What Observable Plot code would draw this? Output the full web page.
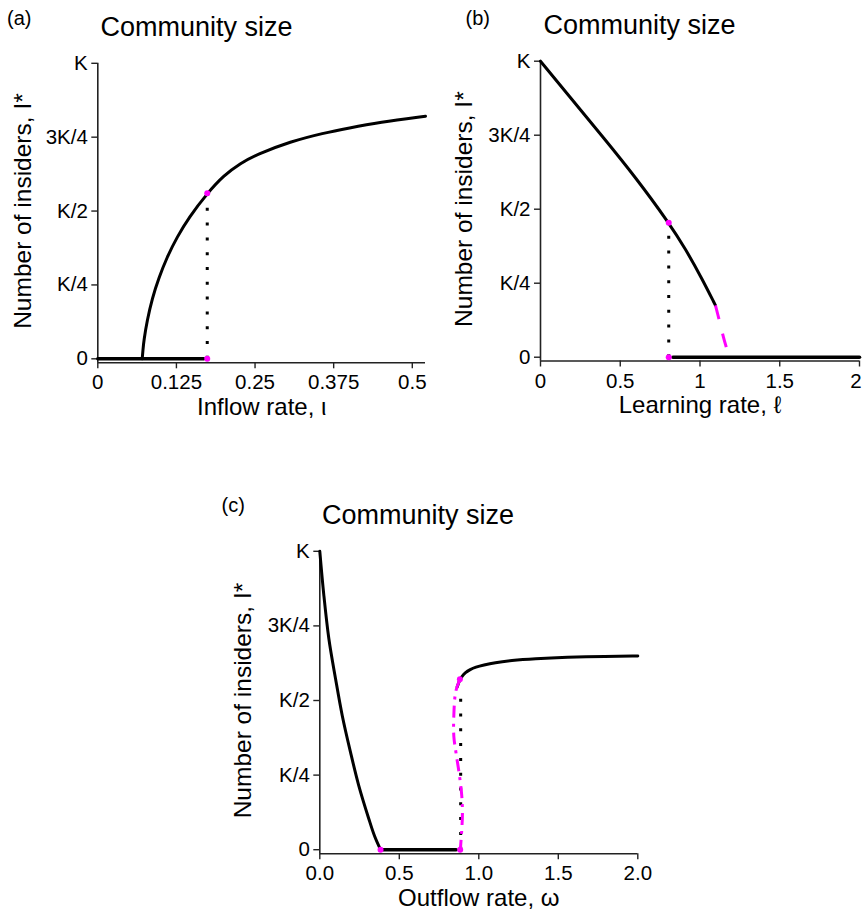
<!DOCTYPE html>
<html><head><meta charset="utf-8">
<script src="https://cdn.jsdelivr.net/npm/d3@7"></script>
<script src="https://cdn.jsdelivr.net/npm/@observablehq/plot@0.6"></script>
<style>
html,body{margin:0;padding:0;background:#fff;}
#wrap{position:relative;width:862px;height:915px;overflow:hidden;font-family:"Liberation Sans",Arial,sans-serif;}
.panel{position:absolute;}
</style></head><body><div id="wrap"></div>
<script>
// ---------- shared ----------
const yTickValues = [0, 0.25, 0.5, 0.75, 1];
const yTickLabels = ["0", "K/4", "K/2", "3K/4", "K"];
const titleText = "Community size";
const yLabelText = "Number of insiders, I*";

// ---------- panel (a): inflow rate ----------
const aTickValues = [0, 0.125, 0.25, 0.375, 0.5];
const aTickLabels = ["0", "0.125", "0.25", "0.375", "0.5"];
const aZeroX = [0, 0.1686];
const aZeroY = [0, 0];
const aCurveX = [0.0706, 0.0718, 0.0732, 0.0785, 0.0865, 0.0971, 0.110, 0.126, 0.145, 0.174, 0.200, 0.227, 0.2535, 0.306, 0.359, 0.399, 0.447, 0.521];
const aCurveY = [0, 0.030, 0.062, 0.130, 0.205, 0.274, 0.344, 0.412, 0.479, 0.560, 0.620, 0.662, 0.692, 0.735, 0.764, 0.781, 0.800, 0.821];
const aJumpX = [0.174, 0.174];
const aJumpY = [0, 0.560];

// ---------- panel (b): learning rate ----------
const bTickValues = [0, 0.5, 1, 1.5, 2];
const bTickLabels = ["0", "0.5", "1", "1.5", "2"];
const bStableX = [0, 0.178, 0.387, 0.596, 0.805, 0.909, 1.013, 1.097];
const bStableY = [1, 0.883, 0.747, 0.608, 0.454, 0.366, 0.265, 0.175];
const bUnstableX = [1.097, 1.124, 1.147, 1.170, 1.181];
const bUnstableY = [0.175, 0.118, 0.068, 0.023, 0];
const bZeroX = [0.83, 2.0];
const bZeroY = [0, 0];
const bJumpX = [0.804, 0.804];
const bJumpY = [0, 0.454];

// ---------- panel (c): outflow rate ----------
const cTickValues = [0, 0.5, 1, 1.5, 2];
const cTickLabels = ["0.0", "0.5", "1.0", "1.5", "2.0"];
const cLowX = [0, 0.025, 0.057, 0.099, 0.141, 0.193, 0.245, 0.308, 0.345, 0.382];
const cLowY = [1, 0.855, 0.707, 0.573, 0.450, 0.327, 0.215, 0.104, 0.045, 0];
const cZeroX = [0.393, 0.858];
const cZeroY = [0, 0];
const cHighX = [0.864, 0.872, 0.882, 0.895, 0.915, 0.945, 0.98, 1.03, 1.10, 1.20, 1.35, 1.55, 1.8, 2.0];
const cHighY = [0.545, 0.558, 0.570, 0.582, 0.594, 0.604, 0.612, 0.619, 0.627, 0.634, 0.640, 0.645, 0.648, 0.649];
const cUnstableX = [0.881, 0.855, 0.843, 0.843, 0.858, 0.878, 0.893, 0.897, 0.892, 0.884];
const cUnstableY = [0.571, 0.53, 0.45, 0.38, 0.32, 0.25, 0.18, 0.12, 0.06, 0];
const cJumpX = [0.886, 0.886];
const cJumpY = [0, 0.545];
const cDotX = [0.382, 0.883, 0.881];
const cDotY = [0, 0, 0.571];

const MAGENTA = "#ff00ff";
const FONT = "'Liberation Sans', Arial, sans-serif";
const TICK_FS = 20.5;

function pts(xs, ys) { return xs.map((x, i) => ({x, y: ys[i]})); }

function panel(cfg) {
  const {left, top, width, height, mL, mR, mT, mB, xMax, yMin, ticks, labels, lastDx = 0,
         letter, letterDx, letterDy, titleDx, titleDy, xLabel, yLabelDx, xLabelDy, marks} = cfg;
  const n = ticks.length;
  const shiftLast = lastDx !== 0;
  const p = Plot.plot({
    width, height, marginLeft: mL, marginRight: mR, marginTop: mT, marginBottom: mB,
    x: {domain: [0, xMax]},
    y: {domain: [yMin, 1]},
    style: {fontFamily: FONT, color: "#000", background: "transparent"},
    marks: [
      Plot.ruleX([0], {stroke: "#222", strokeWidth: 1.6}),
      Plot.ruleY([yMin], {stroke: "#222", strokeWidth: 1.6}),
      Plot.axisY({ticks: yTickValues, tickFormat: d => yTickLabels[yTickValues.indexOf(d)],
        tickSize: 6, tickPadding: 4, fontSize: TICK_FS, label: null, stroke: "#222", strokeWidth: 1.4}),
      Plot.axisX({ticks, tickFormat: d => {
          const i = ticks.indexOf(d);
          return (shiftLast && i === n - 1) ? "" : labels[i];
        },
        tickSize: 6, tickPadding: 6, fontSize: TICK_FS, label: null, stroke: "#222", strokeWidth: 1.4}),
      ...(shiftLast ? [Plot.axisX({ticks: [ticks[n - 1]], tickFormat: () => labels[n - 1],
        tickSize: 0, tickPadding: 12, dx: lastDx, fontSize: TICK_FS, label: null})] : []),
      ...marks,
      Plot.text([letter], {text: d => d, frameAnchor: "top-left", dx: letterDx, dy: letterDy,
        textAnchor: "start", lineAnchor: "bottom", fontSize: 20}),
      Plot.text([titleText], {text: d => d, frameAnchor: "top-left", dx: titleDx, dy: titleDy,
        textAnchor: "middle", lineAnchor: "bottom", fontSize: 27}),
      Plot.text([yLabelText], {text: d => d, frameAnchor: "left", dx: yLabelDx, dy: -2, rotate: -90,
        textAnchor: "middle", lineAnchor: "middle", fontSize: 24.5}),
      Plot.text([xLabel], {text: d => d, frameAnchor: "bottom", dy: xLabelDy,
        textAnchor: "middle", lineAnchor: "bottom", fontSize: 24})
    ]
  });
  const d = document.createElement("div");
  d.className = "panel";
  d.style.left = left + "px";
  d.style.top = top + "px";
  d.appendChild(p);
  document.getElementById("wrap").appendChild(d);
}

const solid = (xs, ys, extra = {}) => Plot.line(pts(xs, ys), {x: "x", y: "y", stroke: "#000", strokeWidth: 3, curve: "monotone-x", ...extra});
const dotted = (xs, ys) => Plot.line(pts(xs, ys), {x: "x", y: "y", stroke: "#000", strokeWidth: 3, strokeDasharray: "3 11.8", strokeLinecap: "butt"});
const mdots = (xs, ys) => Plot.dot(pts(xs, ys), {x: "x", y: "y", r: 3, fill: MAGENTA, stroke: "none"});

// (a)
panel({
  left: 0, top: 0, width: 430, height: 425,
  mL: 97.3, mR: 5, mT: 62.8, mB: 62.7,
  xMax: 0.521, yMin: -0.0135, ticks: aTickValues, labels: aTickLabels,
  letter: "(a)", letterDx: -90.8, letterDy: -38.8,
  titleDx: 98.7, titleDy: -27.8,
  xLabel: "Inflow rate, \u03b9", yLabelDx: -74.8, xLabelDy: 52.5,
  marks: [
    solid(aZeroX, aZeroY, {strokeWidth: 3.5, curve: "linear"}),
    solid(aCurveX, aCurveY, {curve: "basis"}),
    dotted(aJumpX, aJumpY),
    mdots(aJumpX, aJumpY)
  ]
});

// (b)
panel({
  left: 430, top: 0, width: 432, height: 425,
  mL: 110, mR: 3, mT: 60.7, mB: 64.5,
  xMax: 2.0, yMin: -0.0128, ticks: bTickValues, labels: bTickLabels, lastDx: -3.5,
  letter: "(b)", letterDx: -75, letterDy: -36.7,
  titleDx: 99, titleDy: -27.2,
  xLabel: "Learning rate, \u2113", yLabelDx: -76, xLabelDy: 52,
  marks: [
    solid(bZeroX, bZeroY, {strokeWidth: 3.5, curve: "linear"}),
    solid(bStableX, bStableY, {curve: "basis"}),
    Plot.line(pts(bUnstableX, bUnstableY), {x: "x", y: "y", stroke: MAGENTA, strokeWidth: 3, strokeDasharray: "14 15", strokeLinecap: "butt", curve: "catmull-rom"}),
    dotted(bJumpX, bJumpY),
    mdots(bJumpX, bJumpY)
  ]
});

// (c)
panel({
  left: 220, top: 480, width: 450, height: 435,
  mL: 99.3, mR: 32.7, mT: 70.8, mB: 61.7,
  xMax: 2.0, yMin: -0.0137, ticks: cTickValues, labels: cTickLabels,
  letter: "(c)", letterDx: -98.3, letterDy: -39.8,
  titleDx: 98.2, titleDy: -27.5,
  xLabel: "Outflow rate, \u03c9", yLabelDx: -77, xLabelDy: 52,
  marks: [
    solid(cZeroX, cZeroY, {strokeWidth: 3.5, curve: "linear"}),
    solid(cLowX, cLowY, {curve: "catmull-rom"}),
    solid(cHighX, cHighY, {curve: "basis"}),
    dotted(cJumpX, cJumpY),
    Plot.line(pts(cUnstableX, cUnstableY), {x: "x", y: "y", stroke: MAGENTA, strokeWidth: 3, strokeDasharray: "12 6 3 6", strokeLinecap: "butt", curve: "catmull-rom"}),
    mdots(cDotX, cDotY)
  ]
});
</script></body></html>
